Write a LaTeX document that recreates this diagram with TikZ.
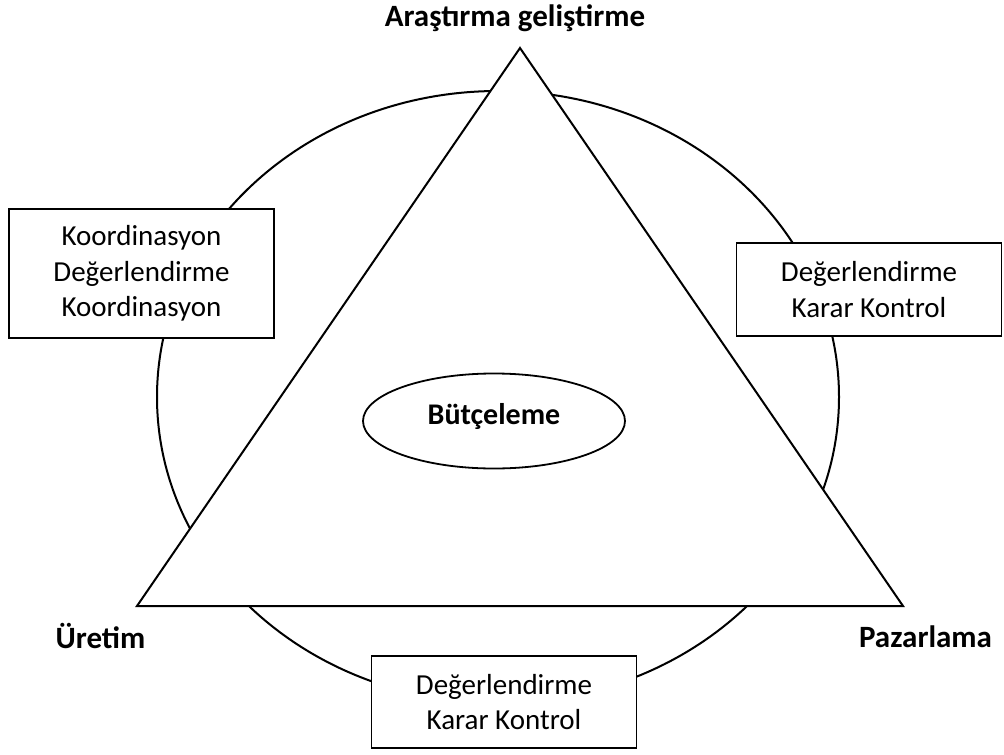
\documentclass[tikz,border=0pt]{standalone}
\usepackage{fontspec}
\setmainfont{Carlito}
\usetikzlibrary{shapes.geometric}
\begin{document}
\begin{tikzpicture}[x=1pt, y=-1pt,
  outline/.style={line width=2pt, line join=miter},
  infobox/.style={draw, fill=white, line width=1.8pt, minimum width=265pt,
    inner sep=0pt, align=center, font=\fontsize{29}{35.5}\selectfont},
  cornerlabel/.style={anchor=base, inner sep=0pt, font=\fontsize{31}{37}\selectfont\bfseries}]
\useasboundingbox (0,0) rectangle (1004,755);

% background cycle
\draw[outline] (498,397) ellipse [x radius=341pt, y radius=306pt];

% triangle
\coordinate (apex) at (520,48);
\coordinate (left) at (137,606);
\coordinate (right) at (903,606);
\filldraw[outline, fill=white] (apex) -- (left) -- (right) -- cycle;

% centre
\node[draw, ellipse, line width=1.8pt, minimum width=262pt, minimum height=95pt,
  inner sep=0pt] (budget) at (494,421) {};
\node[anchor=base, inner sep=0pt, font=\fontsize{30}{36}\selectfont\bfseries]
  (budgettext) at (494,424) {Bütçeleme};

% boxes
\node[infobox, minimum height=129pt] (leftbox) at (141.5,273.5)
  {Koordinasyon\\Değerlendirme\\Koordinasyon};
\node[infobox, minimum height=93pt] (rightbox) at (869,289.5)
  {Değerlendirme\\Karar Kontrol};
\node[infobox, minimum height=92pt] (bottombox) at (504,702)
  {Değerlendirme\\Karar Kontrol};

% corner labels
\node[cornerlabel] (rd) at (515,26) {Araştırma geliştirme};
\node[cornerlabel] (prod) at (100.5,648) {Üretim};
\node[cornerlabel] (mkt) at (925.5,647) {Pazarlama};
\end{tikzpicture}
\end{document}
